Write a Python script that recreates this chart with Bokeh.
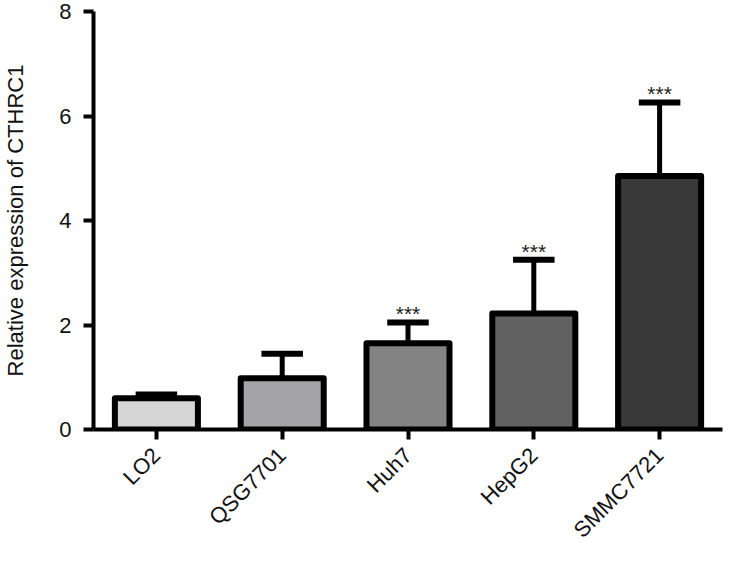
import math
from bokeh.plotting import figure
from bokeh.models import ColumnDataSource, FixedTicker, FactorRange, Range1d
from bokeh.core.properties import value
from bokeh.embed import file_html
from bokeh.resources import INLINE

cells = ["LO2", "QSG7701", "Huh7", "HepG2", "SMMC7721"]
means = [0.60, 0.98, 1.65, 2.22, 4.85]
sds = [0.07, 0.47, 0.40, 1.03, 1.41]
colors = ["#d6d6d6", "#a4a4a6", "#838383", "#616161", "#393939"]
sig_cells = ["Huh7", "HepG2", "SMMC7721"]
sig_marks = ["***", "***", "***"]
y_ticks = [0, 2, 4, 6, 8]

FONT = "Liberation Sans"

upper = [m + s for m, s in zip(means, sds)]
src = ColumnDataSource(dict(x=cells, top=means, upper=upper, color=colors))
sig_upper = [upper[cells.index(c)] for c in sig_cells]
sig_src = ColumnDataSource(dict(x=sig_cells, y=sig_upper, t=sig_marks))

p = figure(
    x_range=FactorRange(factors=cells, range_padding=0),
    y_range=Range1d(0, 8),
    width=725, height=554,
    output_backend="svg", toolbar_location=None,
    min_border_left=82, min_border_right=3,
    min_border_top=11, min_border_bottom=124,
)
p.outline_line_color = None
p.xgrid.visible = False
p.ygrid.visible = False
p.background_fill_color = "white"
p.border_fill_color = "white"

p.vbar(x="x", top="top", bottom=0, width=0.66, source=src,
       fill_color="color", line_color="black", line_width=6,
       line_join="round")
p.segment(x0="x", y0="top", x1="x", y1="upper", source=src,
          line_color="black", line_width=5)
p.rect(x="x", y="upper", width=0.33, height=6, height_units="screen",
       source=src, fill_color="black", line_color=None)
p.text(x="x", y="y", text="t", source=sig_src, text_align="center",
       text_baseline="bottom", y_offset=3,
       text_font=value(FONT), text_font_size="21px", text_color="#222222")

for ax in (p.xaxis[0], p.yaxis[0]):
    ax.axis_line_width = 4
    ax.axis_line_color = "black"
    ax.major_tick_line_width = 4
    ax.major_tick_line_color = "black"
    ax.major_tick_in = 0
    ax.major_tick_out = 10
    ax.minor_tick_line_color = None
    ax.major_label_text_font = FONT
    ax.major_label_text_color = "#111111"

p.yaxis.ticker = FixedTicker(ticks=y_ticks)
p.yaxis.major_label_text_font_size = "22px"
p.yaxis.major_label_standoff = 12
p.yaxis.axis_label = "Relative expression of CTHRC1"
p.yaxis.axis_label_text_font = FONT
p.yaxis.axis_label_text_font_size = "22px"
p.yaxis.axis_label_text_font_style = "normal"
p.yaxis.axis_label_text_color = "#111111"
p.yaxis.axis_label_standoff = 28

p.xaxis.major_label_orientation = math.pi / 4
p.xaxis.major_label_text_font_size = "22px"
p.xaxis.major_label_standoff = 12

open("out.html", "w").write(file_html(p, INLINE))
